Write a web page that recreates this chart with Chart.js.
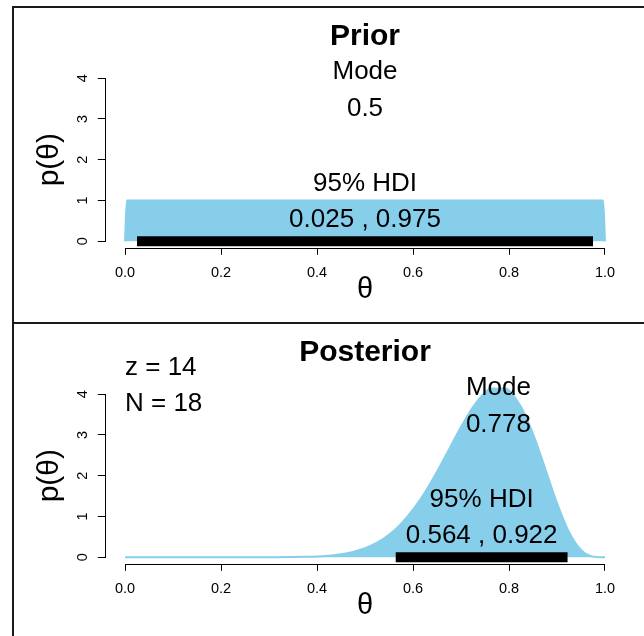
<!DOCTYPE html>
<html lang="en">
<head>
<meta charset="UTF-8">
<title>Prior and Posterior</title>
<script src="https://cdn.jsdelivr.net/npm/chart.js"></script>
<style>
    body { margin: 0; background: #fff; }
    .page { position: relative; width: 644px; height: 636px; overflow: hidden; }
    .panel { position: absolute; left: 0; width: 644px; }
    .panel canvas { display: block; }
    .frame { position: absolute; background: #1a1a1a; }
</style>
</head>
<body>
<div class="page">
    <div class="panel" style="top:0;height:322px"><canvas id="priorChart" width="644" height="322"></canvas></div>
    <div class="panel" style="top:322px;height:314px"><canvas id="postChart" width="644" height="314"></canvas></div>
    <div class="frame" style="left:12px;top:6px;width:632px;height:2px"></div>
    <div class="frame" style="left:12px;top:6px;width:2px;height:630px"></div>
    <div class="frame" style="left:12px;top:322px;width:632px;height:2px"></div>
</div>

<script>
    // axis ticks
    const xTicks = [0, 0.2, 0.4, 0.6, 0.8, 1];
    const xTickLabels = ['0.0', '0.2', '0.4', '0.6', '0.8', '1.0'];
    const yTicks = [0, 1, 2, 3, 4];

    // prior: flat density
    const priorTheta = [0, 0.004, 0.996, 1];
    const priorDensity = [0, 1, 1, 0];
    const priorMode = 0.5;
    const priorHdi = [0.025, 0.975];

    // posterior density
    const postTheta = [0, 0.1, 0.2, 0.3, 0.35, 0.375, 0.4, 0.425, 0.45, 0.475, 0.5, 0.525, 0.55, 0.575,
        0.6, 0.625, 0.65, 0.675, 0.7, 0.725, 0.75, 0.76, 0.778, 0.79, 0.8, 0.825, 0.85, 0.875,
        0.9, 0.925, 0.95, 0.975, 1];
    const postDensity = [0, 0, 0, 0.001, 0.004, 0.010, 0.020, 0.040, 0.074, 0.132, 0.222, 0.357, 0.552, 0.820,
        1.166, 1.596, 2.097, 2.645, 3.194, 3.684, 4.047, 4.137, 4.204, 4.170, 4.091, 3.689, 3.025, 2.189,
        1.330, 0.618, 0.177, 0.016, 0];
    const postMode = 0.778;
    const postHdi = [0.564, 0.922];
    const dataZ = 14;
    const dataN = 18;

    const FONT = '"Liberation Sans", Arial, sans-serif';
    const FILL = '#87CEEB';
    Chart.defaults.font.family = FONT;
    Chart.defaults.color = '#000';

    // R-like axes, axis titles and text annotations
    const rStyle = {
        id: 'rStyle',
        afterDraw(chart, args, o) {
            const ctx = chart.ctx, xs = chart.scales.x, ys = chart.scales.y, area = chart.chartArea;
            ctx.save();
            ctx.strokeStyle = '#000';
            ctx.lineWidth = 1;
            ctx.beginPath();
            const yb = Math.round(area.bottom) + 0.5;
            ctx.moveTo(xs.getPixelForValue(xTicks[0]), yb);
            ctx.lineTo(xs.getPixelForValue(xTicks[xTicks.length - 1]), yb);
            const xl = Math.round(area.left) - 0.5;
            ctx.moveTo(xl, ys.getPixelForValue(yTicks[0]));
            ctx.lineTo(xl, ys.getPixelForValue(yTicks[yTicks.length - 1]));
            ctx.stroke();

            ctx.fillStyle = '#000';
            ctx.textAlign = 'center';
            ctx.textBaseline = 'middle';
            ctx.font = '14.5px ' + FONT;
            yTicks.forEach(v => {
                ctx.save();
                ctx.translate(area.left - 23, ys.getPixelForValue(v));
                ctx.rotate(-Math.PI / 2);
                ctx.fillText(String(v), 0, 0);
                ctx.restore();
            });

            // y title
            ctx.save();
            ctx.font = '30px ' + FONT;
            ctx.translate(area.left - 56, (area.top + area.bottom) / 2);
            ctx.rotate(-Math.PI / 2);
            ctx.fillText('p(\u03B8)', 0, 0);
            ctx.restore();

            // x title
            ctx.font = '29px ' + FONT;
            ctx.fillText('\u03B8', (area.left + area.right) / 2, area.bottom + 42);

            // main title
            ctx.font = 'bold 30px ' + FONT;
            ctx.fillText(o.title, (area.left + area.right) / 2, area.top - 34.5);

            ctx.font = '26px ' + FONT;
            o.texts.forEach(t => {
                ctx.textAlign = t.align || 'center';
                ctx.fillText(t.text, xs.getPixelForValue(t.x), ys.getPixelForValue(t.y));
            });
            ctx.restore();
        }
    };

    function toPoints(xv, yv) {
        return xv.map((v, i) => ({ x: v, y: yv[i] }));
    }

    function makeChart(id, title, theta, density, hdi, mode, extraTexts, pad) {
        const ctx = document.getElementById(id).getContext('2d');
        const texts = [
            { text: 'Mode', x: mode, y: 4.16 },
            { text: String(mode), x: mode, y: 3.25 },
            { text: '95% HDI', x: (hdi[0] + hdi[1]) / 2, y: 1.42 },
            { text: hdi[0] + ' , ' + hdi[1], x: (hdi[0] + hdi[1]) / 2, y: 0.53 }
        ].concat(extraTexts);

        return new Chart(ctx, {
            type: 'line',
            data: {
                datasets: [
                    {
                        label: 'HDI',
                        data: toPoints(hdi, [0, 0]),
                        borderColor: '#000',
                        borderWidth: 10,
                        borderCapStyle: 'butt',
                        pointRadius: 0,
                        fill: false
                    },
                    {
                        label: 'density',
                        data: toPoints(theta, density),
                        borderColor: FILL,
                        backgroundColor: FILL,
                        borderWidth: 2,
                        pointRadius: 0,
                        cubicInterpolationMode: 'monotone',
                        fill: 'origin'
                    }
                ]
            },
            options: {
                responsive: false,
                animation: false,
                layout: { padding: pad },
                plugins: {
                    legend: { display: false },
                    tooltip: { enabled: false },
                    rStyle: { title: title, texts: texts }
                },
                scales: {
                    x: {
                        type: 'linear',
                        min: -0.04,
                        max: 1.04,
                        afterBuildTicks: s => { s.ticks = xTicks.map(v => ({ value: v })); },
                        afterFit: s => { s.height = 40; },
                        grid: { drawOnChartArea: false, tickLength: 7, color: '#000' },
                        border: { display: false },
                        ticks: {
                            autoSkip: false,
                            maxRotation: 0,
                            padding: 9,
                            font: { size: 14.5 },
                            color: '#000',
                            callback: (v, i) => xTickLabels[i]
                        }
                    },
                    y: {
                        type: 'linear',
                        min: -0.16,
                        max: 4.16,
                        afterBuildTicks: s => { s.ticks = yTicks.map(v => ({ value: v })); },
                        afterFit: s => { s.width = 40; },
                        grid: { drawOnChartArea: false, tickLength: 8, color: '#000' },
                        border: { display: false },
                        ticks: { display: false }
                    }
                }
            },
            plugins: [rStyle]
        });
    }

    makeChart('priorChart', 'Prior', priorTheta, priorDensity, priorHdi, priorMode, [],
        { left: 65.8, right: 19.8, top: 71.6, bottom: 34.2 });

    makeChart('postChart', 'Posterior', postTheta, postDensity, postHdi, postMode, [
        { text: 'z = ' + dataZ, x: 0, y: 4.64, align: 'left' },
        { text: 'N = ' + dataN, x: 0, y: 3.76, align: 'left' }
    ], { left: 65.8, right: 19.8, top: 65.6, bottom: 32.2 });
</script>
</body>
</html>
